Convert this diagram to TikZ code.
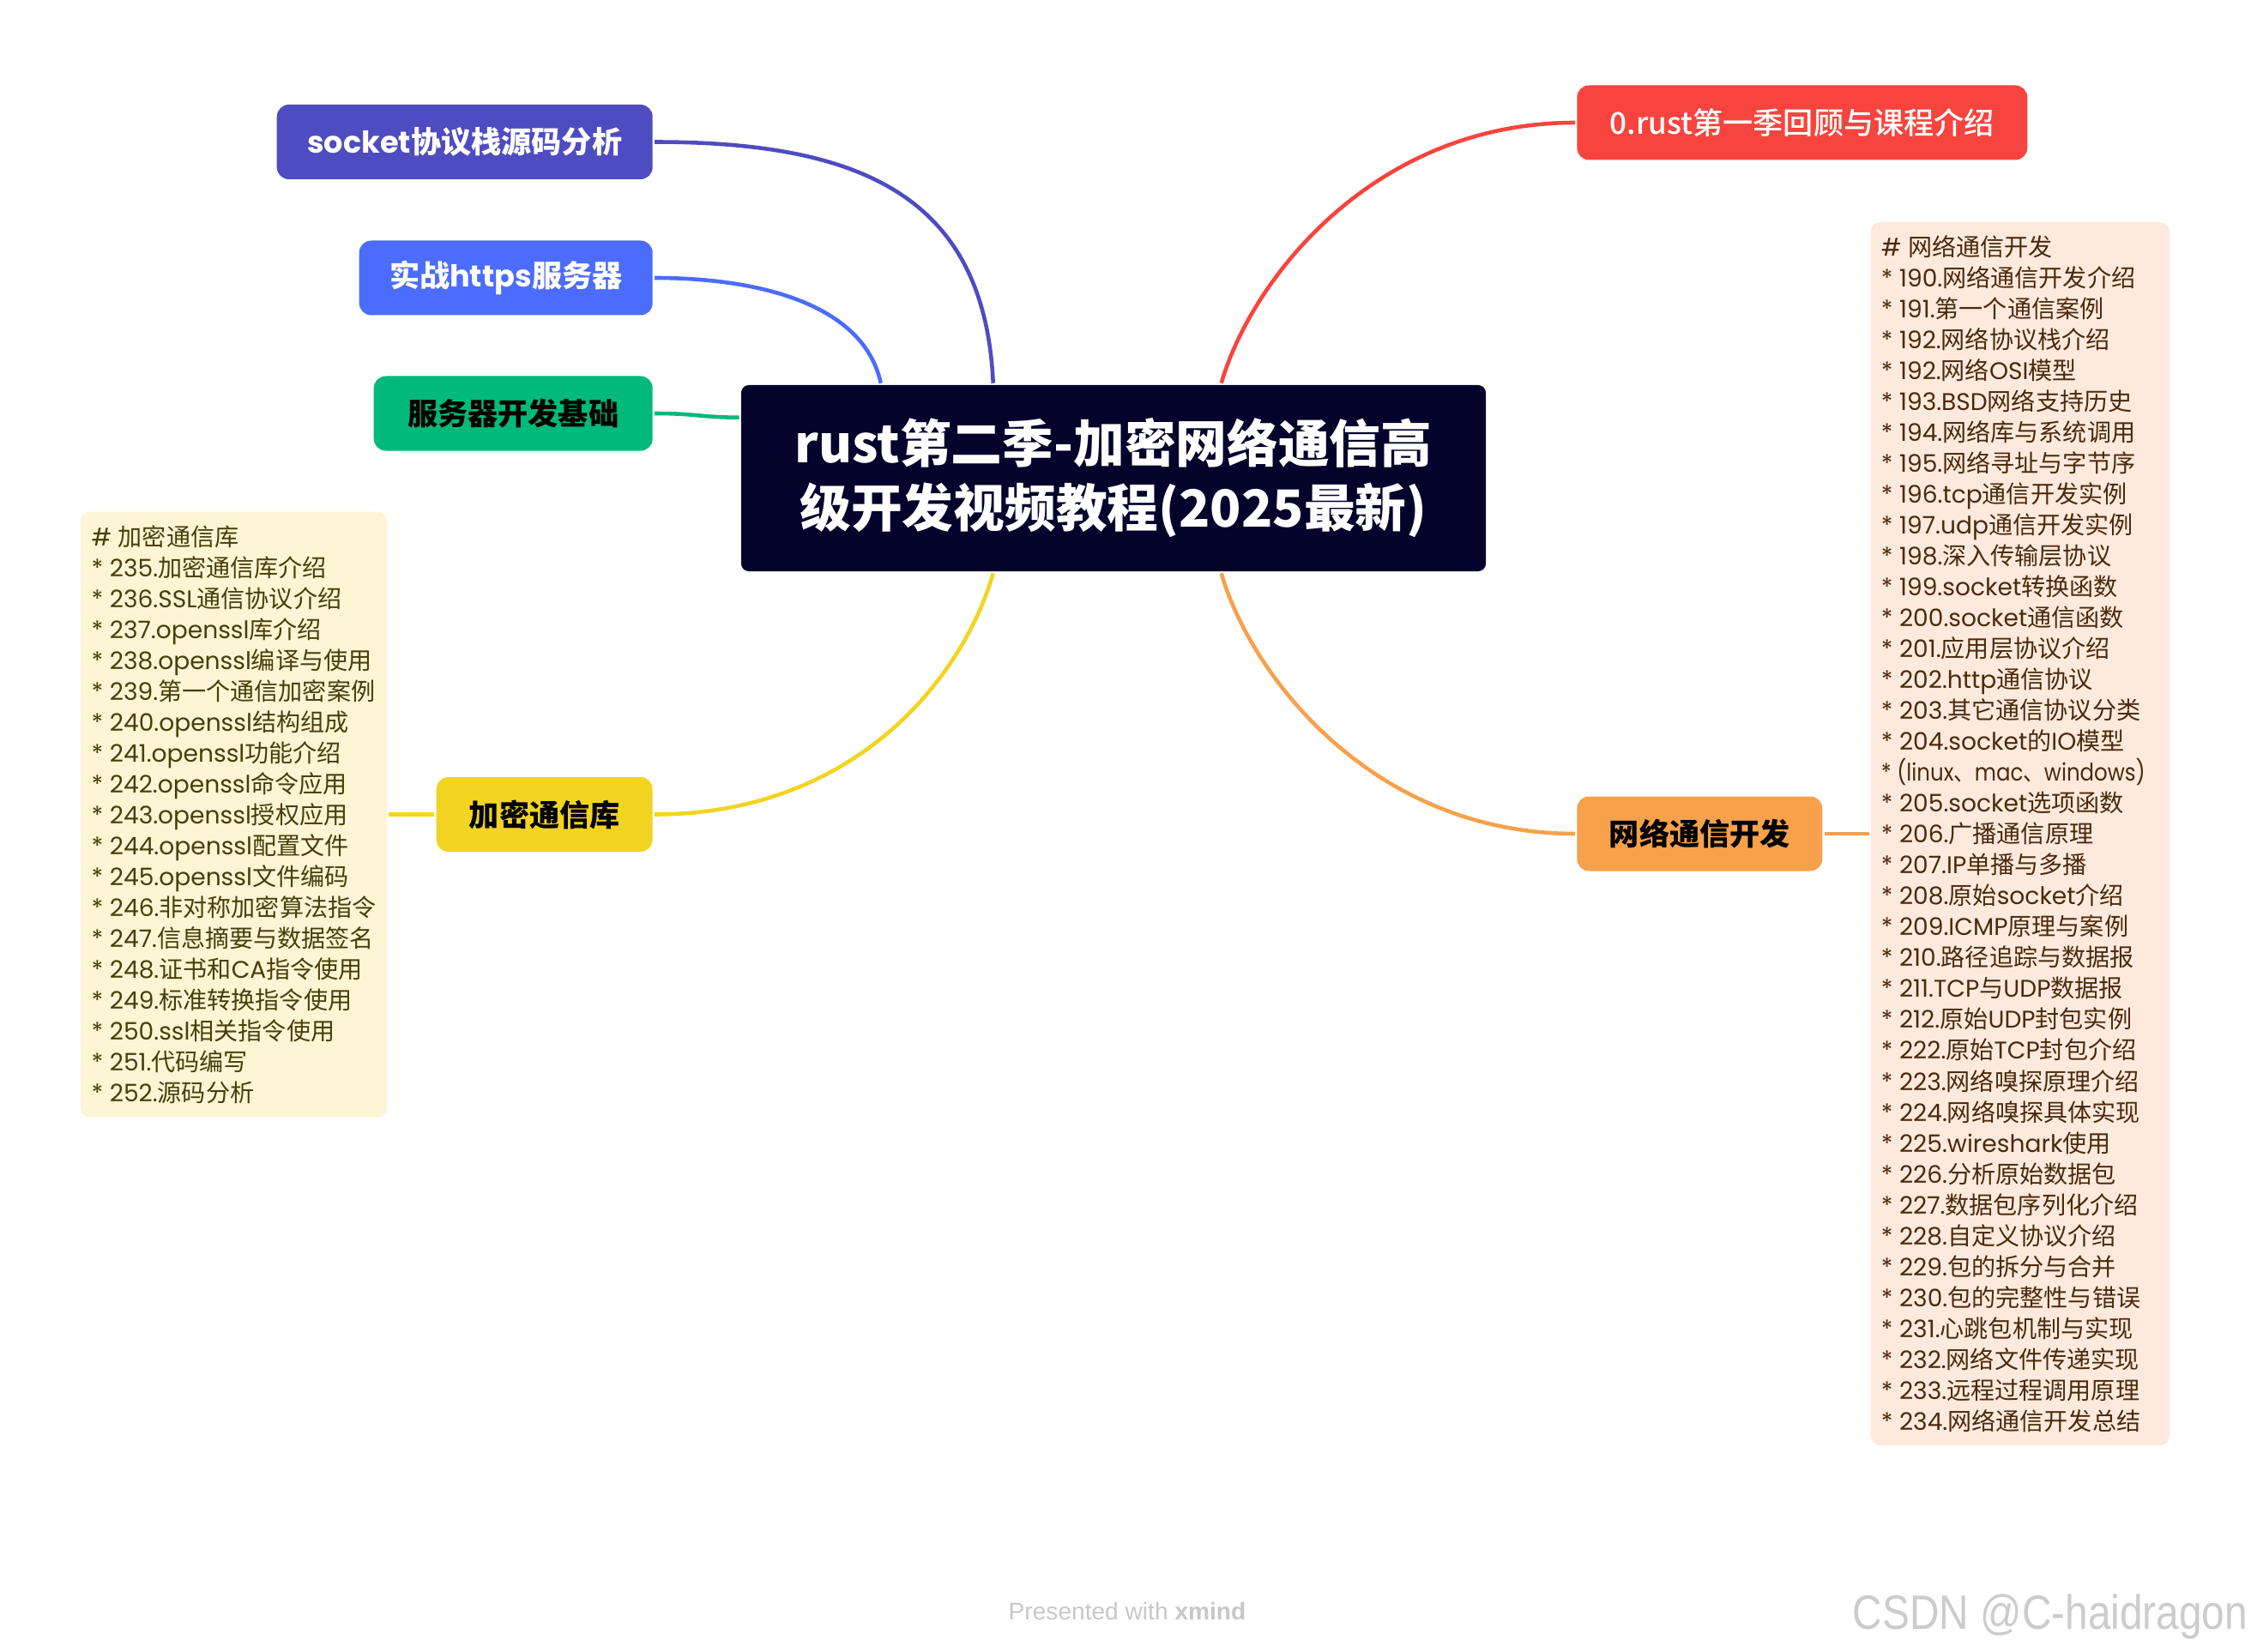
\documentclass[tikz,border=0pt]{standalone}
\usepackage{fontspec}
\usepackage{graphicx}
\setmainfont{Poppins}
\newfontfamily\cjkfont{Noto Sans CJK SC}
\newfontfamily\cjkmedium{Noto Sans CJK SC Medium}
\newfontfamily\markfont{Liberation Sans}
% switch to the CJK face for Han characters and CJK punctuation
\XeTeXinterchartokenstate=1
\newXeTeXintercharclass\hanclass
\makeatletter
\count@="3000
\loop\XeTeXcharclass\count@=\hanclass\ifnum\count@<"303F \advance\count@ by 1 \repeat
\count@="4E00
\loop\XeTeXcharclass\count@=\hanclass\ifnum\count@<"9FFF \advance\count@ by 1 \repeat
\count@="FF00
\loop\XeTeXcharclass\count@=\hanclass\ifnum\count@<"FFEF \advance\count@ by 1 \repeat
\makeatother
\XeTeXinterchartoks 0 \hanclass = {\cjkfont}
\XeTeXinterchartoks 4095 \hanclass = {\cjkfont}
\XeTeXinterchartoks \hanclass 0 = {\rmfamily}
\XeTeXinterchartoks \hanclass 4095 = {\rmfamily}
\newcommand\onlycjk{\cjkfont\XeTeXinterchartokenstate=0\relax}
\newcommand\onlymedium{\cjkmedium\XeTeXinterchartokenstate=0\relax}

\usetikzlibrary{positioning, backgrounds}
\definecolor{cindigo}{HTML}{4F4BC0}
\definecolor{cblue}{HTML}{4B6CFC}
\definecolor{cgreen}{HTML}{00B97B}
\definecolor{cred}{HTML}{F8443E}
\definecolor{cyellow}{HTML}{F2D421}
\definecolor{corange}{HTML}{F7A14D}
\definecolor{cnavy}{HTML}{03032B}
\definecolor{cpaleyellow}{HTML}{FDF5D3}
\definecolor{cpeach}{HTML}{FDEADC}
\definecolor{colive}{HTML}{4A3D0C}
\definecolor{cbrown}{HTML}{4A2A0E}
\tikzset{
  every picture/.style={line width=1.3pt},
  box/.style={fill=#1, rounded corners=4pt, align=center, inner sep=0pt, minimum height=0.87cm, font=\fontsize{10}{12}\selectfont\bfseries},
  link/.style={draw=#1, line width=1.3pt},
  note/.style={fill=#1, rounded corners=3pt, align=left, inner sep=0pt, font=\fontsize{8}{10.25}\selectfont},
}

\begin{document}
\begin{tikzpicture}
  \useasboundingbox (0,0) rectangle (26.24,-19.26);
  \node[box=cnavy, text=white, minimum width=8.68cm, minimum height=2.17cm, rounded corners=2.5pt, font=\onlycjk\fontsize{17}{21.3}\selectfont\bfseries] (root) at (12.98,-5.575) {rust第二季-加密网络通信高\\级开发视频教程(2025最新)};
  % branches on the left
  \node[box=cindigo, text=white, minimum width=4.38cm, anchor=east] (socket) at (7.63,-1.655) {socket协议栈源码分析};
  \node[box=cblue, text=white, minimum width=3.42cm, anchor=east] (https) at (7.63,-3.24) {实战https服务器};
  \node[box=cgreen, minimum width=3.25cm, anchor=east] (server) at (7.63,-4.82) {服务器开发基础};
  \node[box=cyellow, minimum width=2.52cm, anchor=east] (crypto) at (7.63,-9.495) {加密通信库};
  % branches on the right
  \node[box=cred, text=white, minimum width=5.25cm, anchor=west, font=\onlymedium\fontsize{10}{12}\selectfont] (review) at (18.36,-1.43) {0.rust第一季回顾与课程介绍};
  \node[box=corange, minimum width=2.86cm, anchor=west] (netdev) at (18.36,-9.72) {网络通信开发};
  % notes
  \node[note=cpaleyellow, text=colive, minimum width=3.57cm, minimum height=7.06cm, left=0.53cm of crypto] (cryptonote) {\# 加密通信库\\
* 235.加密通信库介绍\\
* 236.SSL通信协议介绍\\
* 237.openssl库介绍\\
* 238.openssl编译与使用\\
* 239.第一个通信加密案例\\
* 240.openssl结构组成\\
* 241.openssl功能介绍\\
* 242.openssl命令应用\\
* 243.openssl授权应用\\
* 244.openssl配置文件\\
* 245.openssl文件编码\\
* 246.非对称加密算法指令\\
* 247.信息摘要与数据签名\\
* 248.证书和CA指令使用\\
* 249.标准转换指令使用\\
* 250.ssl相关指令使用\\
* 251.代码编写\\
* 252.源码分析};
  \node[note=cpeach, text=cbrown, minimum width=3.48cm, minimum height=14.26cm, right=0.52cm of netdev] (netnote) {\# 网络通信开发\\
* 190.网络通信开发介绍\\
* 191.第一个通信案例\\
* 192.网络协议栈介绍\\
* 192.网络OSI模型\\
* 193.BSD网络支持历史\\
* 194.网络库与系统调用\\
* 195.网络寻址与字节序\\
* 196.tcp通信开发实例\\
* 197.udp通信开发实例\\
* 198.深入传输层协议\\
* 199.socket转换函数\\
* 200.socket通信函数\\
* 201.应用层协议介绍\\
* 202.http通信协议\\
* 203.其它通信协议分类\\
* 204.socket的IO模型\\
\makebox[3.24cm][l]{\scalebox{0.87}[1]{* (linux、mac、windows)}}\\
* 205.socket选项函数\\
* 206.广播通信原理\\
* 207.IP单播与多播\\
* 208.原始socket介绍\\
* 209.ICMP原理与案例\\
* 210.路径追踪与数据报\\
* 211.TCP与UDP数据报\\
* 212.原始UDP封包实例\\
* 222.原始TCP封包介绍\\
* 223.网络嗅探原理介绍\\
* 224.网络嗅探具体实现\\
* 225.wireshark使用\\
* 226.分析原始数据包\\
* 227.数据包序列化介绍\\
* 228.自定义协议介绍\\
* 229.包的拆分与合并\\
* 230.包的完整性与错误\\
* 231.心跳包机制与实现\\
* 232.网络文件传递实现\\
* 233.远程过程调用原理\\
* 234.网络通信开发总结};
  % where the branches meet the root
  \coordinate (topA) at ([xshift=1.65cm]root.north west);
  \coordinate (topB) at ([xshift=2.96cm]root.north west);
  \coordinate (topC) at ([xshift=5.62cm]root.north west);
  \coordinate (sideA) at ([yshift=-0.40cm]root.north west);
  \coordinate (botB) at ([xshift=2.96cm]root.south west);
  \coordinate (botC) at ([xshift=5.62cm]root.south west);
  \begin{scope}[on background layer]
    \draw[link=cindigo] (topB) .. controls +(-0.10,2.19) and +(2.39,0) .. (socket.east);
    \draw[link=cblue] (topA) .. controls +(-0.19,0.89) and +(1.29,0) .. (https.east);
    \draw[link=cgreen] (sideA) .. controls +(-0.44,0) and +(0.49,0) .. (server.east);
    \draw[link=cred] (topC) .. controls +(0.34,1.19) and +(-2.36,0) .. (review.west);
    \draw[link=cyellow] (botB) .. controls +(-0.34,-1.19) and +(2.36,0) .. (crypto.east);
    \draw[link=corange] (botC) .. controls +(0.34,-1.19) and +(-2.36,0) .. (netdev.west);
    \draw[link=cyellow] (crypto.west) -- (cryptonote.east);
    \draw[link=corange] (netdev.east) -- (netnote.west);
  \end{scope}
  % footer
  \node[font=\markfont\fontsize{8}{9}\selectfont, text=black!22] (credit) at (13.14,-18.78) {Presented with \textbf{xmind}};
  \node[font=\markfont\fontsize{16}{18}\selectfont, text=black!20] (mark) at (23.90,-18.85) {\scalebox{0.85}[1]{CSDN @C-haidragon}};
\end{tikzpicture}
\end{document}
